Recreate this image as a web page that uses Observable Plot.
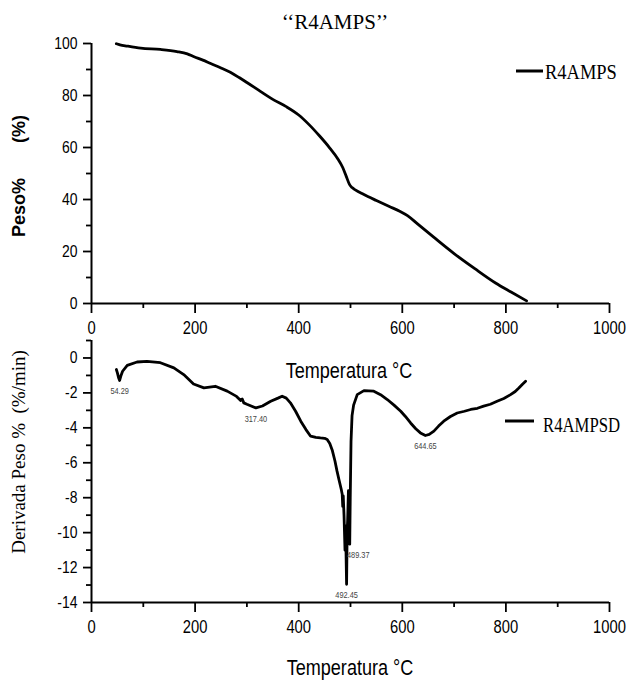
<!DOCTYPE html>
<html><head><meta charset="utf-8">
<script src="https://cdn.jsdelivr.net/npm/d3@7"></script>
<script src="https://cdn.jsdelivr.net/npm/@observablehq/plot@0.6"></script>
<style>
html,body{margin:0;padding:0;background:#fff;}
#chart{position:relative;width:627px;height:685px;overflow:hidden;background:#fff;}
#chart svg{position:absolute;left:0;top:0;}
</style></head><body><div id="chart"></div>
<script>
// ---- data ----
const tgTemp = [48, 55, 69, 95, 133, 165, 185, 198, 215, 230, 250, 268, 285, 300, 326, 350, 375, 400, 420, 440, 460, 475, 485, 492, 498, 503, 510, 525, 550, 575, 595, 610, 630, 660, 700, 740, 780, 810, 840];
const tgWeight = [99.9, 99.5, 99.0, 98.2, 97.7, 96.9, 96.0, 94.9, 93.6, 92.3, 90.6, 88.9, 86.9, 85.0, 81.6, 78.5, 75.8, 72.5, 68.8, 64.5, 59.8, 55.8, 52.3, 48.8, 45.8, 44.6, 43.6, 42.0, 39.6, 37.3, 35.5, 33.8, 30.5, 25.6, 19.2, 13.4, 7.9, 4.4, 1.0];

const dtgTemp = [48, 50, 52.5, 54.29, 57, 60, 69, 88, 107, 133, 159, 178, 197, 217, 239, 262, 280, 288, 291, 294, 300, 317.4, 330, 346, 360, 368, 376, 384, 394, 404, 414, 423, 433, 442, 450, 455, 460, 465, 470, 474, 478, 482, 484, 485, 486, 487.5, 489.37, 490.5, 492.45, 493.5, 494.5, 496, 497, 498.5, 499.5, 501, 503, 506, 513, 526, 545, 558, 571, 584, 597, 606, 616, 626, 635, 644.65, 652, 661, 670, 680, 693, 706, 720, 732, 745, 757, 770, 783, 796, 809, 818, 825, 832, 838];
const dtgRate = [-0.66, -0.85, -1.15, -1.29, -1.0, -0.76, -0.42, -0.23, -0.19, -0.27, -0.57, -0.95, -1.49, -1.71, -1.62, -1.9, -2.2, -2.44, -2.35, -2.57, -2.65, -2.86, -2.75, -2.48, -2.3, -2.19, -2.3, -2.57, -3.05, -3.62, -4.1, -4.48, -4.55, -4.58, -4.6, -4.67, -4.9, -5.3, -5.9, -6.48, -7.0, -7.5, -7.8, -8.5, -7.9, -9.0, -11.0, -9.6, -12.96, -10.0, -9.3, -7.6, -8.5, -10.66, -8.0, -4.8, -3.3, -2.7, -2.1, -1.87, -1.9, -2.1, -2.38, -2.7, -3.05, -3.35, -3.72, -4.05, -4.29, -4.44, -4.38, -4.19, -3.9, -3.62, -3.35, -3.15, -3.05, -2.95, -2.88, -2.76, -2.65, -2.48, -2.32, -2.1, -1.92, -1.72, -1.5, -1.33];

const peakTemps = [54.29, 317.40, 492.45, 644.65];
const peakValues = [-1.29, -2.86, -12.96, -4.44];
const peakLabels = ["54.29", "317.40", "492.45", "644.65"];
const sidePeakTemps = [489.37];
const sidePeakValues = [-10.66];
const sidePeakLabels = ["489.37"];

const majorXTicks = [0, 200, 400, 600, 800, 1000];
const minorXTicks = [100, 300, 500, 700, 900];
const tgMajorYTicks = [0, 20, 40, 60, 80, 100];
const tgMinorYTicks = [10, 30, 50, 70, 90];
const dtgMajorYTicks = [0, -2, -4, -6, -8, -10, -12, -14];
const dtgMinorYTicks = [1, -1, -3, -5, -7, -9, -11, -13];

const titleText = "\u2018\u2018R4AMPS\u2019\u2019";
const xLabel = "Temperatura \u00B0C";
const tgYLabel = "Peso%       (%)";
const dtgYLabel = "Derivada Peso %  (%/min)";
const tgSeriesName = "R4AMPS";
const dtgSeriesName = "R4AMPSD";

// ---- tables ----
const tg = tgTemp.map((t, i) => ({t, w: tgWeight[i]}));
const dtg = dtgTemp.map((t, i) => ({t, d: dtgRate[i]}));
const peaks = peakTemps.map((t, i) => ({t, d: peakValues[i], label: peakLabels[i]}));
const sidePeaks = sidePeakTemps.map((t, i) => ({t, d: sidePeakValues[i], label: sidePeakLabels[i]}));

const SANS = "'Liberation Sans', Arial, Helvetica, sans-serif";
const SERIF = "'Liberation Serif', 'Times New Roman', Times, serif";
const W = 627, H = 685;

function axes(major, minor, majorY, minorY) {
  return [
    Plot.axisX({ticks: major, tickSize: 10, tickPadding: 8, tickFormat: d => String(d), label: null, strokeWidth: 1.8, fontSize: 18}),
    Plot.axisX({ticks: minor, tickSize: 5, fill: "none", label: null, strokeWidth: 1.8}),
    Plot.axisY({ticks: majorY, tickSize: 8, tickPadding: 6, tickFormat: d => String(d), label: null, strokeWidth: 1.8, fontSize: 17}),
    Plot.axisY({ticks: minorY, tickSize: 5, fill: "none", label: null, strokeWidth: 1.8})
  ];
}

const p1 = Plot.plot({
  width: W, height: 345,
  marginTop: 43, marginBottom: 42, marginLeft: 91, marginRight: 18,
  style: {background: "transparent", fontFamily: SANS, fontSize: "18px", overflow: "visible", color: "#000"},
  x: {domain: [0, 1000]},
  y: {domain: [0, 100]},
  marks: [
    ...axes(majorXTicks, minorXTicks, tgMajorYTicks, tgMinorYTicks),
    Plot.ruleY([0], {stroke: "#000", strokeWidth: 2}),
    Plot.ruleX([0], {stroke: "#000", strokeWidth: 2}),
    Plot.line(tg, {x: "t", y: "w", stroke: "#000", strokeWidth: 2.8, curve: "monotone-x"})
  ]
});

const p2 = Plot.plot({
  width: W, height: H,
  marginTop: 340, marginBottom: 83, marginLeft: 91, marginRight: 18,
  style: {background: "transparent", fontFamily: SANS, fontSize: "18px", overflow: "visible", color: "#000"},
  x: {domain: [0, 1000]},
  y: {domain: [-14, 1]},
  marks: [
    ...axes(majorXTicks, minorXTicks, dtgMajorYTicks, dtgMinorYTicks),
    Plot.ruleY([-14], {stroke: "#000", strokeWidth: 2}),
    Plot.ruleX([0], {stroke: "#000", strokeWidth: 2}),
    Plot.line(dtg, {x: "t", y: "d", stroke: "#000", strokeWidth: 2.8, curve: "linear"}),
    Plot.text(peaks, {x: "t", y: "d", text: "label", dy: 11, fontSize: 9, fill: "#444", textAnchor: "middle"}),
    Plot.text(sidePeaks, {x: "t", y: "d", text: "label", dy: 11, dx: 2, fontSize: 9, fill: "#444", textAnchor: "start"})
  ]
});

const root = document.getElementById("chart");
root.appendChild(p2);
root.appendChild(p1);

// narrow (condensed) glyphs as in the reference, without moving anchors
function squeezeText(t, s) {
  const n = t.getComputedTextLength();
  if (n > 0) {
    t.setAttribute("textLength", (n * s).toFixed(2));
    t.setAttribute("lengthAdjust", "spacingAndGlyphs");
  }
}
[p1, p2].forEach(svg => svg.querySelectorAll("text").forEach(t => squeezeText(t, 0.82)));

// overlay: title, axis titles, legends
const ov = d3.select(root).append("svg").attr("width", W).attr("height", H).style("overflow", "visible");
ov.append("text").attr("x", 335).attr("y", 29).attr("text-anchor", "middle")
  .attr("font-family", SERIF).attr("font-size", 21).text(titleText);
const xl1 = ov.append("text").attr("x", 349).attr("y", 378).attr("text-anchor", "middle")
  .attr("font-family", SANS).attr("font-size", 22).text(xLabel);
const xl2 = ov.append("text").attr("x", 350).attr("y", 675).attr("text-anchor", "middle")
  .attr("font-family", SANS).attr("font-size", 22).text(xLabel);
ov.append("text").attr("transform", "translate(25,176) rotate(-90)").attr("text-anchor", "middle")
  .attr("font-family", SANS).attr("font-size", 18).attr("font-weight", "bold").style("white-space", "pre").text(tgYLabel);
ov.append("text").attr("transform", "translate(25,452) rotate(-90)").attr("text-anchor", "middle")
  .attr("font-family", SERIF).attr("font-size", 19).style("white-space", "pre").text(dtgYLabel);
ov.append("line").attr("x1", 516).attr("x2", 543).attr("y1", 71).attr("y2", 71).attr("stroke", "#000").attr("stroke-width", 3);
const lg1 = ov.append("text").attr("x", 545).attr("y", 78.5).attr("font-family", SERIF).attr("font-size", 22).text(tgSeriesName);
ov.append("line").attr("x1", 505).attr("x2", 534).attr("y1", 421).attr("y2", 421).attr("stroke", "#000").attr("stroke-width", 3);
const lg2 = ov.append("text").attr("x", 543).attr("y", 432).attr("font-family", SERIF).attr("font-size", 22).text(dtgSeriesName);
squeezeText(xl1.node(), 0.82);
squeezeText(xl2.node(), 0.82);
squeezeText(lg1.node(), 0.84);
squeezeText(lg2.node(), 0.76);
</script></body></html>
